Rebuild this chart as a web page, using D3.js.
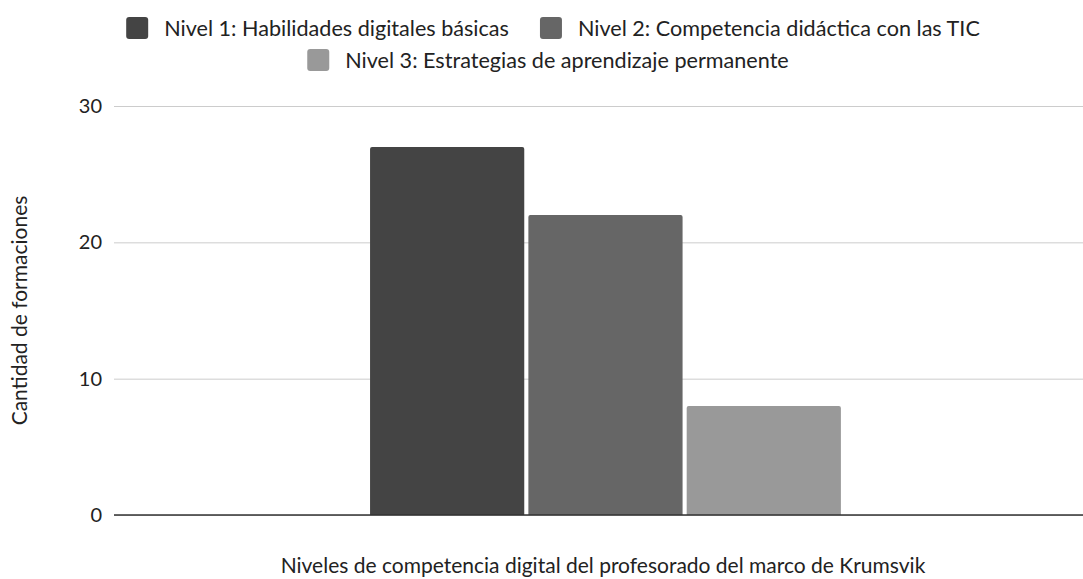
<!DOCTYPE html>
<html>
<head>
<meta charset="utf-8">
<script src="https://cdn.jsdelivr.net/npm/d3@7"></script>
<style>
  body { margin: 0; background: #fff; }
  text { font-family: Lato, "Noto Sans", sans-serif; fill: #222; }
</style>
</head>
<body>
<svg width="1083" height="579"></svg>
<script>
// data
var categories = ['Niveles de competencia digital del profesorado del marco de Krumsvik'];
var series = [
  'Nivel 1: Habilidades digitales básicas',
  'Nivel 2: Competencia didáctica con las TIC',
  'Nivel 3: Estrategias de aprendizaje permanente'
];
var values = [27, 22, 8];
var colors = ['#444444', '#666666', '#999999'];
var yTicks = [0, 10, 20, 30];

var svg = d3.select('svg');
var margin = { top: 106, right: 0, bottom: 64, left: 114 },
    width = +svg.attr('width') - margin.left - margin.right,
    height = +svg.attr('height') - margin.top - margin.bottom;

var g = svg.append('g').attr('transform', 'translate(' + margin.left + ',' + margin.top + ')');

var y = d3.scaleLinear().domain([0, 30]).range([height, 0]);

// one category, three series side by side
var x0 = d3.scaleBand().domain(categories).range([0, width])
    .paddingInner(0).paddingOuter(0.529).align(0.514);
var x1 = d3.scaleBand().domain(series).range([0, x0.bandwidth()])
    .paddingInner(0.026).paddingOuter(0);

// grid lines + tick labels
var yAxis = g.append('g')
  .call(d3.axisLeft(y).tickValues(yTicks).tickSize(-width).tickPadding(12).tickFormat(d3.format('d')));
yAxis.select('.domain').remove();
yAxis.selectAll('.tick line').attr('stroke', '#cccccc').attr('stroke-width', 1);
yAxis.selectAll('.tick text').style('font-size', '20px').attr('fill', '#222');

// bars with slightly rounded tops
g.append('g')
  .selectAll('path')
  .data(series.map(function (s, i) { return { key: s, value: values[i], color: colors[i] }; }))
  .enter()
  .append('path')
  .attr('fill', function (d) { return d.color; })
  .attr('d', function (d) {
    var bx = x0(categories[0]) + x1(d.key), bw = x1.bandwidth();
    var by = y(d.value), bh = height - by, r = 2;
    return 'M' + bx + ',' + (by + bh) +
      'V' + (by + r) + 'Q' + bx + ',' + by + ' ' + (bx + r) + ',' + by +
      'H' + (bx + bw - r) + 'Q' + (bx + bw) + ',' + by + ' ' + (bx + bw) + ',' + (by + r) +
      'V' + (by + bh) + 'Z';
  });

// baseline
g.append('line')
  .attr('x1', 0).attr('x2', width)
  .attr('y1', y(0)).attr('y2', y(0))
  .attr('stroke', '#333').attr('stroke-width', 1.5);

// axis titles
svg.append('text')
  .attr('x', 603).attr('y', 573)
  .attr('text-anchor', 'middle')
  .style('font-size', '21px')
  .text(categories[0]);

svg.append('text')
  .attr('transform', 'translate(27,' + (margin.top + height / 2) + ') rotate(-90)')
  .attr('text-anchor', 'middle')
  .style('font-size', '21px')
  .text('Cantidad de formaciones');

// legend, two centred rows
var rows = [[0, 1], [2]];
var rowY = [28, 60];
var rowCx = [553, 548];
var sq = 22, gapText = 16, gapItem = 31;
rows.forEach(function (row, ri) {
  var lg = svg.append('g');
  var xpos = 0;
  row.forEach(function (i) {
    var item = lg.append('g').attr('transform', 'translate(' + xpos + ',0)');
    item.append('rect')
      .attr('x', 0).attr('y', rowY[ri] - sq / 2)
      .attr('width', sq).attr('height', sq)
      .attr('rx', 3)
      .attr('fill', colors[i]);
    var t = item.append('text')
      .attr('x', sq + gapText).attr('y', rowY[ri])
      .attr('dy', '0.35em')
      .style('font-size', '21.6px')
      .text(series[i]);
    xpos += sq + gapText + t.node().getComputedTextLength() + gapItem;
  });
  var total = xpos - gapItem;
  lg.attr('transform', 'translate(' + (rowCx[ri] - total / 2) + ',0)');
});
</script>
</body>
</html>
